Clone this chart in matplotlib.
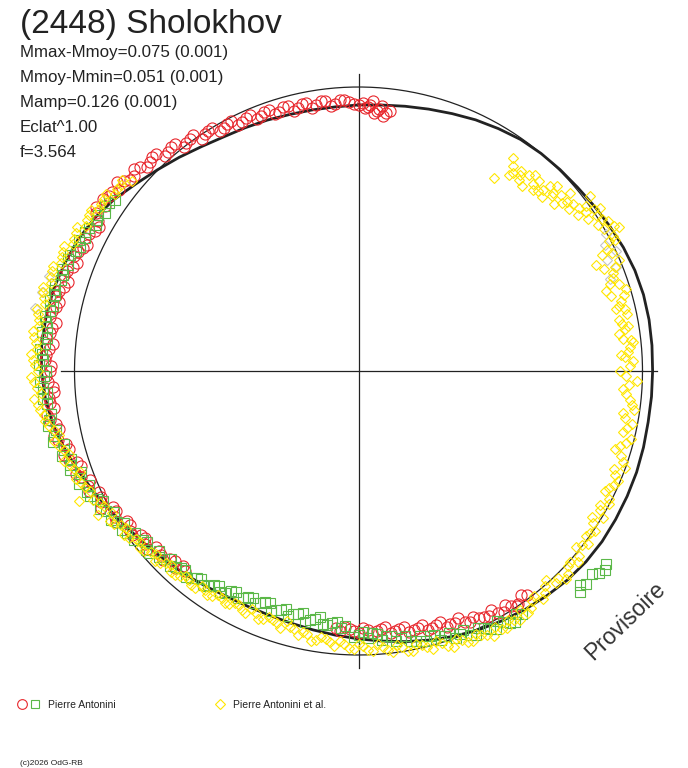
import numpy as np
import matplotlib
matplotlib.use("Agg")
import matplotlib.pyplot as plt

plt.rcParams['font.family'] = ['Liberation Sans', 'DejaVu Sans']

# rotational phase in degrees (0 = top, clockwise) and magnitude offset from the mean
fit_phase = [0, 5, 10, 15, 20, 25, 30, 35, 40, 45, 50, 55, 60, 65, 70, 75, 80, 85,
             90, 95, 100, 105, 110, 115, 120, 125, 130, 135, 140, 145, 150, 155, 160, 165, 170, 175,
             180, 185, 190, 195, 200, 205, 210, 215, 220, 225, 230, 235, 240, 245, 250, 255, 260, 265,
             270, 275, 280, 285, 290, 295, 300, 305, 310, 315, 320, 325, 330, 335, 340, 345, 350, 355]
fit_dmag = [-0.039, -0.037, -0.033, -0.028, -0.022, -0.015, -0.009, -0.003, 0.000, 0.002, 0.004, 0.008,
            0.013, 0.018, 0.022, 0.024, 0.024, 0.023, 0.022, 0.022, 0.022, 0.024, 0.026, 0.027,
            0.028, 0.029, 0.028, 0.025, 0.020, 0.015, 0.009, 0.003, -0.004, -0.012, -0.020, -0.028,
            -0.035, -0.041, -0.046, -0.050, -0.052, -0.052, -0.050, -0.044, -0.037, -0.030, -0.022, -0.012,
            0.000, 0.014, 0.028, 0.043, 0.057, 0.066, 0.072, 0.074, 0.072, 0.069, 0.063, 0.056,
            0.046, 0.032, 0.015, 0.001, -0.011, -0.022, -0.030, -0.034, -0.037, -0.040, -0.041, -0.041]

# Pierre Antonini, first set (red circles)
red_obs = [
    (143, -0.007), (144, -0.015), (146, -0.002), (148, -0.017), (150, -0.011), (151, -0.024),
    (153, -0.017), (155, -0.028), (156, -0.020), (158, -0.039), (160, -0.033), (162, -0.043),
    (164, -0.037), (166, -0.048), (168, -0.041), (170, -0.052), (172, -0.046), (174, -0.057),
    (176, -0.050), (178, -0.054), (180, -0.048), (182, -0.057), (184, -0.050),
    (145.5, -0.004), (147, -0.009), (149, -0.005), (152, -0.015), (154, -0.021), (157, -0.024),
    (159, -0.030), (161, -0.028), (163, -0.040), (165, -0.034), (167, -0.044), (169, -0.040),
    (171, -0.049), (173, -0.043), (175, -0.055), (177, -0.047), (179, -0.059), (181, -0.052),
    (183, -0.061), (185, -0.056),
    (222, -0.048), (225, -0.039), (227, -0.030), (229, -0.035), (231, -0.020), (233, -0.026),
    (235, -0.011), (237, -0.017), (239, 0.000), (241, -0.007), (243, 0.011), (245, 0.004),
    (247, 0.022), (249, 0.028), (251, 0.020), (253, 0.041), (255, 0.035), (257, 0.052),
    (259, 0.046), (261, 0.061),
    (221, -0.041), (223, -0.033), (224, -0.044), (226, -0.026), (228, -0.034), (230, -0.017),
    (232, -0.028), (234, -0.009), (236, -0.019), (238, 0.003), (240, -0.008), (242, 0.016),
    (244, 0.006), (246, 0.024), (248, 0.013), (250, 0.035), (252, 0.026), (254, 0.048),
    (256, 0.038), (258, 0.060), (260, 0.050), (262, 0.066),
    (263, 0.050), (265, 0.059), (267, 0.048), (269, 0.061), (271, 0.052), (273, 0.063),
    (275, 0.050), (277, 0.059), (279, 0.048), (281, 0.061), (283, 0.050), (285, 0.057),
    (287, 0.043), (289, 0.052), (291, 0.039), (293, 0.046), (295, 0.033), (297, 0.039), (299, 0.028),
    (264, 0.056), (266, 0.046), (268, 0.058), (270, 0.054), (272, 0.064), (274, 0.056),
    (276, 0.066), (278, 0.055), (280, 0.063), (282, 0.054), (284, 0.060), (286, 0.049),
    (288, 0.055), (290, 0.044), (292, 0.050), (294, 0.038), (296, 0.044), (298, 0.031), (300, 0.036),
    (301, 0.048), (303, 0.041), (305, 0.046), (307, 0.035), (309, 0.039), (311, 0.030),
    (313, 0.033), (315, 0.024), (317, 0.028), (319, 0.013), (321, 0.017), (323, 0.004),
    (325, 0.009), (327, -0.004), (329, 0.000), (331, -0.013), (333, -0.007), (335, -0.020),
    (337, -0.013), (339, -0.024), (341, -0.017), (343, -0.028), (345, -0.022), (347, -0.030),
    (349, -0.024), (351, -0.033), (353, -0.026), (355, -0.035), (357, -0.028), (359, -0.037),
    (302, 0.056), (304, 0.052), (306, 0.044), (308, 0.050), (310, 0.030), (312, 0.038),
    (314, 0.022), (316, 0.028), (318, 0.011), (320, 0.017), (322, 0.000), (324, 0.006),
    (326, -0.009), (328, -0.002), (330, -0.016), (332, -0.010), (334, -0.022), (336, -0.015),
    (338, -0.026), (340, -0.018), (342, -0.030), (344, -0.020), (346, -0.034), (348, -0.023),
    (350, -0.036), (352, -0.025), (354, -0.038), (356, -0.027), (358, -0.033), (0, -0.040),
    (1, -0.035), (2, -0.043), (3, -0.030), (4, -0.050), (5, -0.039), (6, -0.054),
    (1.5, -0.046), (2.5, -0.038), (3.5, -0.056), (4.5, -0.046), (5.5, -0.061), (7, -0.048),
]

# Pierre Antonini, second set (green squares)
green_obs = [
    (128, 0.065), (129, 0.071), (131, 0.054), (130, 0.065), (134, 0.052), (133, 0.060), (135, 0.063),
    (146, 0.020), (148, 0.026), (150, 0.013), (152, 0.017), (154, 0.004), (156, 0.011),
    (159, -0.004), (162, -0.011), (165, -0.020), (168, -0.017), (171, -0.030), (174, -0.039),
    (177, -0.048), (180, -0.043),
    (147, 0.012), (149, 0.022), (151, 0.005), (153, 0.013), (155, -0.002), (157, 0.006),
    (158, -0.010), (160, 0.000), (161, -0.015), (163, -0.006), (164, -0.020), (166, -0.012),
    (167, -0.026), (169, -0.019), (170, -0.033), (172, -0.024), (173, -0.038), (175, -0.030),
    (176, -0.044), (178, -0.036), (179, -0.050), (181, -0.040),
    (183, -0.063), (185, -0.070), (187, -0.061), (189, -0.076), (191, -0.067), (193, -0.078),
    (195, -0.070), (197, -0.076), (199, -0.067), (201, -0.078), (203, -0.070), (205, -0.074),
    (207, -0.063), (209, -0.067), (211, -0.054), (213, -0.059), (215, -0.048), (217, -0.050),
    (219, -0.039), (221, -0.043),
    (184, -0.058), (186, -0.066), (188, -0.062), (190, -0.071), (192, -0.060), (194, -0.074),
    (196, -0.064), (198, -0.071), (200, -0.062), (202, -0.075), (204, -0.066), (206, -0.070),
    (208, -0.058), (210, -0.064), (212, -0.050), (214, -0.055), (216, -0.042), (218, -0.047),
    (220, -0.034), (222, -0.040),
    (223, -0.035), (226, -0.030), (229, -0.015), (232, -0.022), (235, -0.004), (238, 0.002),
    (241, 0.011), (244, 0.015), (246, 0.028), (249, 0.033), (252, 0.041), (255, 0.046),
    (258, 0.059), (261, 0.063),
    (224, -0.028), (225, -0.040), (227, -0.024), (228, -0.034), (230, -0.013), (231, -0.027),
    (233, -0.006), (234, -0.018), (236, 0.002), (237, -0.010), (239, 0.010), (240, -0.004),
    (242, 0.020), (243, 0.005), (245, 0.026), (247, 0.018), (248, 0.038), (250, 0.024),
    (251, 0.046), (253, 0.036), (254, 0.053), (256, 0.042), (257, 0.064), (259, 0.053),
    (260, 0.068), (262, 0.058),
    (264, 0.063), (267, 0.070), (270, 0.061), (273, 0.072), (276, 0.063), (279, 0.070),
    (282, 0.061), (285, 0.067), (288, 0.057), (291, 0.059), (294, 0.046), (297, 0.050),
    (300, 0.039), (303, 0.041), (305, 0.030),
    (265, 0.072), (266, 0.062), (268, 0.075), (269, 0.066), (271, 0.078), (272, 0.068),
    (274, 0.076), (275, 0.066), (277, 0.076), (278, 0.067), (280, 0.074), (281, 0.066),
    (283, 0.071), (284, 0.062), (286, 0.068), (287, 0.058), (289, 0.064), (290, 0.054),
    (292, 0.058), (293, 0.050), (295, 0.054), (296, 0.044), (298, 0.047), (299, 0.036),
    (301, 0.043), (302, 0.032), (304, 0.036),
]

# Pierre Antonini et al. (yellow diamonds)
yellow_obs = [
    (35, -0.104), (36, -0.046), (38, -0.072), (39, -0.057), (40, -0.074), (42, -0.043),
    (43, -0.061), (45, -0.065), (46, -0.039), (47, -0.028), (48, -0.050), (50, -0.017),
    (51, -0.035), (52, -0.026), (53, 0.013), (54, -0.007), (55, -0.013), (56, 0.017),
    (57, 0.002), (59, 0.015), (60, -0.002), (61, 0.030), (63, 0.009), (64, -0.017),
    (66, -0.052), (67, -0.002), (69, -0.024), (71, -0.039), (72, -0.052), (73, -0.009),
    (75, -0.026), (76, -0.033), (78, -0.020), (80, -0.035), (82, -0.046), (84, -0.017),
    (85, -0.024), (87, -0.037), (89, -0.028), (90, -0.048), (92, -0.011), (94, -0.041),
    (37, -0.060), (37.5, -0.079), (39.5, -0.066), (41, -0.052), (41.5, -0.080), (43.5, -0.048),
    (44, -0.070), (45.5, -0.055), (46.5, -0.068), (47.5, -0.045), (49, -0.035), (49.5, -0.058),
    (50.5, -0.044), (52.5, -0.040), (53.5, -0.022), (54.5, -0.032), (55.5, 0.004), (56.5, -0.020),
    (58, 0.008), (58.5, -0.008), (60.5, 0.022), (62, 0.010), (62.5, -0.004), (64.5, -0.030),
    (65, -0.009), (67.5, -0.040), (68, -0.015), (70, -0.028),
    (71.5, -0.020), (73.5, -0.044), (74, -0.016), (76.5, -0.042), (77, -0.022), (79, -0.040),
    (80.5, -0.024), (81, -0.030), (83, -0.038), (83.5, -0.022), (86, -0.030), (86.5, -0.046),
    (88, -0.020), (91, -0.036), (93, -0.028), (95, -0.033),
    (96, -0.024), (98, -0.013), (100, -0.030), (102, -0.020), (104, -0.007), (106, -0.026),
    (108, -0.017), (110, -0.002), (112, -0.015), (114, -0.009), (116, -0.022), (118, 0.000),
    (120, -0.011), (122, -0.020), (124, 0.004), (126, -0.007), (128, -0.002), (130, 0.009),
    (132, 0.002), (134, 0.017), (136, 0.007), (138, -0.007), (140, 0.013), (142, 0.002),
    (144, 0.020), (146, 0.009),
    (97, -0.018), (99, -0.036), (101, -0.012), (103, -0.028), (105, -0.015), (107, -0.034),
    (109, -0.010), (111, -0.022), (113, -0.004), (115, -0.016), (117, -0.006), (119, -0.018),
    (121, 0.002), (123, -0.010), (125, -0.004), (127, 0.008), (129, -0.008), (131, 0.015),
    (133, 0.004), (135, 0.022), (137, 0.012), (139, 0.002), (141, 0.020), (143, 0.008), (145, 0.026),
    (148, 0.020), (150, 0.028), (152, 0.013), (154, 0.022), (156, 0.009), (158, 0.017),
    (160, 0.002), (162, 0.011), (164, -0.007), (166, 0.002), (168, -0.011), (170, 0.000),
    (172, -0.015), (174, -0.007), (176, -0.022), (178, -0.011), (180, -0.024), (182, -0.015),
    (184, -0.028),
    (147, 0.028), (149, 0.014), (151, 0.024), (153, 0.030), (155, 0.015), (157, 0.020),
    (159, 0.008), (161, 0.017), (163, 0.000), (165, 0.008), (167, -0.006), (169, 0.002),
    (171, -0.010), (173, -0.003), (175, -0.016), (177, -0.008), (179, -0.020), (181, -0.012),
    (183, -0.024), (185, -0.018),
    (186, -0.024), (188, -0.033), (190, -0.022), (192, -0.037), (194, -0.039), (196, -0.052),
    (198, -0.041), (200, -0.048), (202, -0.037), (204, -0.050), (206, -0.039), (208, -0.046),
    (210, -0.035), (212, -0.043), (214, -0.030), (216, -0.039), (218, -0.026), (220, -0.035),
    (222, -0.022),
    (187, -0.030), (189, -0.026), (191, -0.034), (193, -0.029), (195, -0.042), (197, -0.033),
    (199, -0.044), (201, -0.040), (203, -0.045), (205, -0.036), (207, -0.047), (209, -0.038),
    (211, -0.042), (213, -0.033), (215, -0.036), (217, -0.028), (219, -0.032), (221, -0.026),
    (224, -0.030), (226, -0.017), (228, -0.024), (230, -0.009), (232, -0.015), (234, 0.000),
    (236, -0.007), (238, 0.009), (240, 0.002), (241, 0.030), (243, 0.013), (245, 0.052),
    (246, 0.022), (248, 0.033), (250, 0.026), (252, 0.043), (254, 0.037), (256, 0.054),
    (258, 0.048), (260, 0.065),
    (223, -0.020), (225, -0.026), (227, -0.012), (229, -0.019), (231, -0.005), (233, -0.012),
    (235, 0.004), (237, -0.002), (239, 0.014), (242, 0.008), (244, 0.024), (247, 0.028),
    (249, 0.040), (251, 0.036), (253, 0.052), (255, 0.046), (257, 0.062), (259, 0.056), (261, 0.072),
    (262, 0.074), (264, 0.083), (266, 0.074), (268, 0.089), (270, 0.080), (272, 0.091),
    (274, 0.083), (276, 0.093), (278, 0.085), (280, 0.091), (282, 0.080), (284, 0.089),
    (286, 0.078), (288, 0.083), (290, 0.072), (292, 0.076), (294, 0.063), (296, 0.067),
    (298, 0.054), (300, 0.059), (302, 0.048), (304, 0.050), (306, 0.037), (308, 0.039), (310, 0.026),
    (263, 0.080), (265, 0.090), (267, 0.082), (269, 0.094), (271, 0.086), (273, 0.096),
    (275, 0.087), (277, 0.095), (279, 0.086), (281, 0.094), (283, 0.084), (285, 0.092),
    (287, 0.081), (289, 0.086), (291, 0.074), (293, 0.078), (295, 0.064), (297, 0.070),
    (299, 0.058), (301, 0.062), (303, 0.050), (305, 0.054), (307, 0.040), (309, 0.044),
]

# a few extra points drawn in grey
grey_obs = [(61, -0.002), (63, -0.015), (65, 0.000), (66, -0.026), (68, -0.013), (70, -0.035),
            (281, 0.098), (284, 0.091), (287, 0.087)]

title = "(2448) Sholokhov"
info_lines = ["Mmax-Mmoy=0.075 (0.001)", "Mmoy-Mmin=0.051 (0.001)", "Mamp=0.126 (0.001)",
              "Eclat^1.00", "f=3.564"]

RED = "#e8262c"
GREEN = "#5bb848"
YELLOW = "#ffe600"
GREY = "#c4c4c4"
INK = "#222222"

# figure works in pixels: centre of the polar diagram, radius of the mean magnitude, px per mag
CX, CY, R0, KMAG = 358.5, 371.0, 284.0, 460.0


def to_xy(phase_deg, dmag):
    a = np.radians(np.asarray(phase_deg, dtype=float))
    r = R0 + KMAG * np.asarray(dmag, dtype=float)
    return CX + r * np.sin(a), CY - r * np.cos(a)


fig = plt.figure(figsize=(6.88, 7.68), dpi=100)
ax = fig.add_axes([0, 0, 1, 1])
ax.set_xlim(0, 688)
ax.set_ylim(768, 0)
ax.axis('off')

# axes cross and mean circle
ax.plot([CX - 298, CX + 298], [CY, CY], color=INK, lw=0.9)
ax.plot([CX, CX], [CY - 297, CY + 297], color=INK, lw=0.9)
t = np.linspace(0, 2 * np.pi, 400)
ax.plot(CX + R0 * np.cos(t), CY + R0 * np.sin(t), color=INK, lw=0.9)

# fitted curve
fx, fy = to_xy(fit_phase + fit_phase[:1], fit_dmag + fit_dmag[:1])
ax.plot(fx, fy, color=INK, lw=2.0, zorder=2)

mk = dict(ls='none', mfc='none', zorder=3)
x, y = to_xy(*zip(*red_obs))
ax.plot(x, y, marker='o', ms=8, mec=RED, mew=0.8, **mk)
x, y = to_xy(*zip(*green_obs))
ax.plot(x, y, marker='s', ms=6.5, mec=GREEN, mew=0.8, **mk)
x, y = to_xy(*zip(*grey_obs))
ax.plot(x, y, marker='D', ms=5, mec=GREY, mew=0.8, **mk)
x, y = to_xy(*zip(*yellow_obs))
ax.plot(x, y, marker='D', ms=5, mec=YELLOW, mew=0.8, **mk)

# texts
ax.text(20, 33, title, fontsize=24, color=INK, va='baseline', ha='left')
for i, s in enumerate(info_lines):
    ax.text(20, 57 + 25 * i, s, fontsize=12.2, color=INK, va='baseline', ha='left')

ax.text(625, 621, "Provisoire", fontsize=16.5, color="#333333", rotation=44,
        ha='center', va='center', rotation_mode='anchor')

# legend
ax.plot([22], [704], marker='o', ms=7, mfc='none', mec=RED, mew=0.8, ls='none')
ax.plot([35], [704], marker='s', ms=5.5, mfc='none', mec=GREEN, mew=0.8, ls='none')
ax.text(48, 708, "Pierre Antonini", fontsize=7.5, color=INK, va='baseline')
ax.plot([219.5], [704], marker='D', ms=5, mfc='none', mec=YELLOW, mew=0.8, ls='none')
ax.text(233, 708, "Pierre Antonini et al.", fontsize=7.5, color=INK, va='baseline')
ax.text(20, 765, "(c)2026 OdG-RB", fontsize=6, color=INK, va='baseline')

fig.savefig("out.png", dpi=100, facecolor='white')
